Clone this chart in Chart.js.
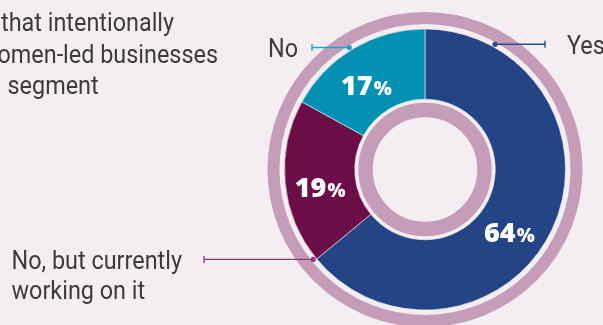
<!DOCTYPE html>
<html>
<head>
<meta charset="utf-8">
<script src="https://cdn.jsdelivr.net/npm/chart.js@4.4.1/dist/chart.umd.min.js"></script>
<style>
  html, body { margin: 0; padding: 0; background: #f4eef3; overflow: hidden; }
  #wrap { position: relative; width: 603px; height: 325px; }
</style>
</head>
<body>
<div id="wrap"><canvas id="c" width="603" height="325"></canvas></div>
<script>
// Survey answers, drawn clockwise from 12 o'clock
const categories = ['Yes', 'No, but currently working on it', 'No'];
const shares = [64, 19, 17];
const calloutLines = [['Yes'], ['No, but currently', 'working on it'], ['No']];
const headingLines = ['that intentionally', 'women-led businesses', 'segment'];

const sliceColors = ['#234585', '#6b0e48', '#0391b3'];
const leaderColors = ['#2b4b8c', '#8c3a72', '#2aa3c2'];
const ringColor = '#c59db8';
const bgColor = '#f4eef3';
const textColor = '#3c3c3c';

// Placement of the callouts and value labels around the ring
const calloutStyle = [
  { at: 0.127, lineEnd: 545, textX: 567, align: 'left' },
  { at: 0.012, lineEnd: 204, textX: 11.5, align: 'left' },
  { at: 0.48, lineEnd: 312, textX: 298, align: 'right' }
];
const valueNudge = [
  { dx: -11, dy: 18 },
  { dx: 0, dy: 8.5 },
  { dx: -5, dy: 7 }
];

const TEXT_FONT = '26px Roboto, "Open Sans", sans-serif';
const TEXT_SQUEEZE = 0.9;
const CAP = 0.711 * 26;

function squeezedText(ctx, str, x, y, align) {
  ctx.save();
  ctx.font = TEXT_FONT;
  ctx.fillStyle = textColor;
  ctx.textBaseline = 'alphabetic';
  ctx.textAlign = align;
  ctx.translate(x, y);
  ctx.scale(TEXT_SQUEEZE, 1);
  ctx.fillText(str, 0, 0);
  ctx.restore();
}

// Thin mauve rings just outside and inside the data ring
const framingRings = {
  id: 'framingRings',
  beforeDatasetsDraw(chart) {
    const a = chart.getDatasetMeta(0).data[0];
    if (!a) return;
    const ctx = chart.ctx;
    ctx.save();
    ctx.strokeStyle = ringColor;
    ctx.lineWidth = 12;
    ctx.beginPath();
    ctx.arc(a.x, a.y, a.outerRadius + 5 + 6, 0, Math.PI * 2);
    ctx.stroke();
    ctx.lineWidth = 14.4;
    ctx.beginPath();
    ctx.arc(a.x, a.y, a.innerRadius - 3.6 - 7.2, 0, Math.PI * 2);
    ctx.stroke();
    ctx.restore();
  }
};

// Leader lines with end ticks, callout text, value labels and heading text
const annotations = {
  id: 'annotations',
  afterDatasetsDraw(chart) {
    const ctx = chart.ctx;
    const arcs = chart.getDatasetMeta(0).data;
    const total = shares.reduce((s, v) => s + v, 0);

    arcs.forEach((a, i) => {
      const st = calloutStyle[i];
      const ang = a.startAngle + st.at * (a.endAngle - a.startAngle);
      const r = a.outerRadius + 3;
      const px = a.x + Math.cos(ang) * r;
      const py = a.y + Math.sin(ang) * r;

      ctx.save();
      ctx.strokeStyle = leaderColors[i];
      ctx.fillStyle = leaderColors[i];
      ctx.lineWidth = 1.4;
      ctx.beginPath();
      ctx.moveTo(px, py);
      ctx.lineTo(st.lineEnd, py);
      ctx.moveTo(st.lineEnd, py - 3.5);
      ctx.lineTo(st.lineEnd, py + 3.5);
      ctx.stroke();
      ctx.beginPath();
      ctx.arc(px, py, 2.6, 0, Math.PI * 2);
      ctx.fill();
      ctx.restore();

      calloutLines[i].forEach((line, k) => {
        squeezedText(ctx, line, st.textX, py + CAP / 2 + k * 30.6, st.align);
      });

      // value label: big digits with a smaller percent sign
      const mid = (a.startAngle + a.endAngle) / 2;
      const rr = (a.innerRadius + a.outerRadius) / 2;
      const cx = a.x + Math.cos(mid) * rr + valueNudge[i].dx;
      const cy = a.y + Math.sin(mid) * rr + valueNudge[i].dy;
      const num = String(Math.round(shares[i] / total * 100));
      ctx.save();
      ctx.fillStyle = '#ffffff';
      ctx.textBaseline = 'alphabetic';
      ctx.textAlign = 'left';
      const bigFont = '800 27px "Open Sans", Roboto, sans-serif';
      const smallFont = '800 19px "Open Sans", Roboto, sans-serif';
      ctx.font = bigFont;
      const w1 = ctx.measureText(num).width;
      ctx.font = smallFont;
      const w2 = ctx.measureText('%').width;
      const x0 = cx - (w1 + 1 + w2) / 2;
      const base = cy + 9.5;
      ctx.font = bigFont;
      ctx.fillText(num, x0, base);
      ctx.font = smallFont;
      ctx.fillText('%', x0 + w1 + 1, base);
      ctx.restore();
    });

    // heading text running off the left edge
    squeezedText(ctx, headingLines[0], 1, 30.7, 'left');
    squeezedText(ctx, headingLines[1], 218, 63, 'right');
    squeezedText(ctx, headingLines[2], 7.5, 94.3, 'left');
  }
};

new Chart(document.getElementById('c'), {
  type: 'doughnut',
  data: {
    labels: categories,
    datasets: [{
      data: shares,
      backgroundColor: sliceColors,
      borderColor: bgColor,
      borderWidth: 0.6,
      hoverOffset: 0
    }]
  },
  options: {
    responsive: false,
    maintainAspectRatio: false,
    animation: false,
    devicePixelRatio: 1,
    radius: 140.5,
    cutout: '50%',
    rotation: 0,
    layout: { padding: { left: 283.5, right: 36.5, top: 28, bottom: 14 } },
    plugins: {
      legend: { display: false },
      tooltip: { enabled: false }
    },
    events: []
  },
  plugins: [framingRings, annotations]
});
</script>
</body>
</html>
